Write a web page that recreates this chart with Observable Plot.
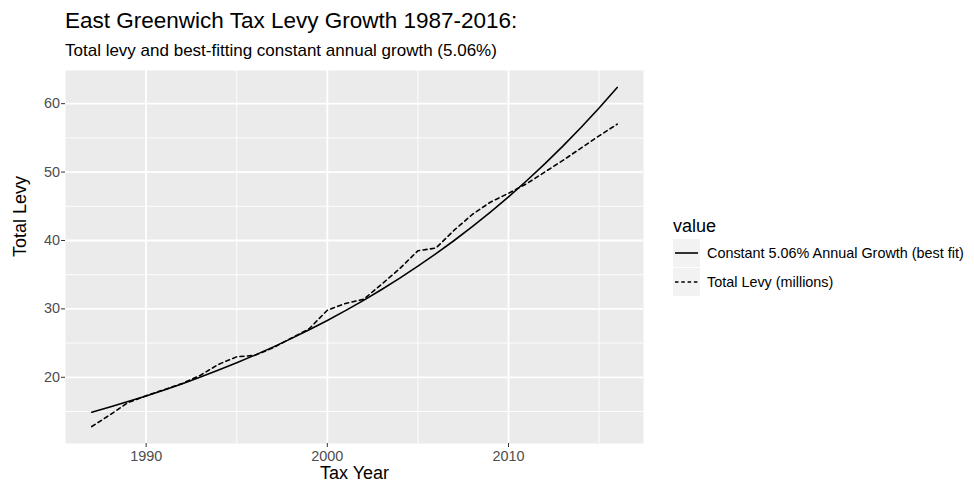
<!DOCTYPE html>
<html>
<head>
<meta charset="utf-8">
<script src="https://cdn.jsdelivr.net/npm/d3@7"></script>
<script src="https://cdn.jsdelivr.net/npm/@observablehq/plot@0.6"></script>
<style>
  html, body { margin: 0; padding: 0; background: #fff; }
  #wrap { position: relative; width: 974px; height: 489px; overflow: hidden;
          font-family: "Liberation Sans", Arial, Helvetica, sans-serif; color: #000; }
  #header { position: relative; height: 60px; }
  #title { position: absolute; left: 65px; top: 10.2px; font-size: 22.5px; line-height: 22.5px; white-space: nowrap; }
  #subtitle { position: absolute; left: 65px; top: 42.3px; font-size: 17px; line-height: 17px; white-space: nowrap; }
  #chart svg { display: block; }
  #legend { position: absolute; left: 673px; top: 215px; }
  #legend .ltitle { position: absolute; left: 0; top: 0; font-size: 18px; line-height: 22px; white-space: nowrap; }
  #legend .row { position: absolute; left: 0; display: flex; align-items: center; height: 29px; }
  #legend .key { width: 27px; height: 28px; background: #f2f2f2; display: flex; align-items: center; justify-content: center; }
  #legend .lab { margin-left: 7px; font-size: 14.4px; white-space: nowrap; }
</style>
</head>
<body>
<div id="wrap">
  <div id="header">
    <div id="title">East Greenwich Tax Levy Growth 1987-2016:</div>
    <div id="subtitle">Total levy and best-fitting constant annual growth (5.06%)</div>
  </div>
  <div id="chart"></div>
  <div id="legend"></div>
</div>
<script>
// ---- data ----
const years = [1987,1988,1989,1990,1991,1992,1993,1994,1995,1996,1997,1998,1999,2000,2001,2002,2003,2004,2005,2006,2007,2008,2009,2010,2011,2012,2013,2014,2015,2016];
const totalLevy = [12.8,14.5,16.3,17.3,18.2,19.1,20.3,21.9,23.0,23.2,24.3,25.7,27.1,29.8,30.8,31.4,33.6,35.9,38.5,38.9,41.5,43.8,45.6,46.9,48.3,50.0,51.7,53.5,55.3,57.0];
const fitGrowth = [14.90,15.65,16.45,17.28,18.15,19.07,20.04,21.05,22.12,23.24,24.41,25.65,26.95,28.31,29.74,31.25,32.83,34.49,36.24,38.07,40.00,42.02,44.15,46.38,48.73,51.20,53.79,56.51,59.37,62.37];
const seriesNames = ["Constant 5.06% Annual Growth (best fit)", "Total Levy (millions)"];
const legendTitle = "value";
const xLabel = "Tax Year";
const yLabel = "Total Levy";
const xTicks = [1990, 2000, 2010];
const xMinor = [1995, 2005, 2015];
const yTicks = [20, 30, 40, 50, 60];
const yMinor = [15, 25, 35, 45, 55];

const rows = years.flatMap((yr, i) => [
  {year: yr, value: fitGrowth[i], series: seriesNames[0]},
  {year: yr, value: totalLevy[i], series: seriesNames[1]}
]);

const allVals = fitGrowth.concat(totalLevy);
const xr = d3.extent(years), yr = d3.extent(allVals);
const xPad = (xr[1] - xr[0]) * 0.05, yPad = (yr[1] - yr[0]) * 0.05;

const font = '"Liberation Sans", Arial, Helvetica, sans-serif';

const chart = Plot.plot({
  width: 974,
  height: 429,
  marginLeft: 65,
  marginRight: 331,
  marginTop: 10,
  marginBottom: 46,
  style: {fontFamily: font, background: "transparent", overflow: "visible"},
  x: {domain: [xr[0] - xPad, xr[1] + xPad]},
  y: {domain: [yr[0] - yPad, yr[1] + yPad]},
  marks: [
    Plot.frame({fill: "#ebebeb", stroke: null}),
    Plot.gridX(xMinor, {stroke: "#fff", strokeOpacity: 1, strokeWidth: 0.9}),
    Plot.gridY(yMinor, {stroke: "#fff", strokeOpacity: 1, strokeWidth: 0.9}),
    Plot.gridX(xTicks, {stroke: "#fff", strokeOpacity: 1, strokeWidth: 1.8}),
    Plot.gridY(yTicks, {stroke: "#fff", strokeOpacity: 1, strokeWidth: 1.8}),
    Plot.line(rows, {filter: d => d.series === seriesNames[0], x: "year", y: "value",
      stroke: "#000", strokeWidth: 1.6, curve: "linear"}),
    Plot.line(rows, {filter: d => d.series === seriesNames[1], x: "year", y: "value",
      stroke: "#000", strokeWidth: 1.6, strokeDasharray: "4,3.5", curve: "linear"}),
    Plot.axisX(xTicks, {tickSize: 4, tickPadding: 3.5, fontSize: 14.4, stroke: "#333", fill: "#4d4d4d", label: null, tickFormat: d => String(d)}),
    Plot.axisY(yTicks, {tickSize: 4, tickPadding: 1.5, fontSize: 14.4, stroke: "#333", fill: "#4d4d4d", label: null}),
    Plot.text([xLabel], {frameAnchor: "bottom", dy: 35, fontSize: 18, fill: "#000"}),
    Plot.text([yLabel], {frameAnchor: "left", dx: -45, rotate: -90, fontSize: 18, fill: "#000"})
  ]
});
document.getElementById("chart").appendChild(chart);

// legend
const leg = document.getElementById("legend");
const t = document.createElement("div");
t.className = "ltitle"; t.textContent = legendTitle; leg.appendChild(t);
seriesNames.forEach((name, i) => {
  const r = document.createElement("div"); r.className = "row";
  r.style.top = (23 + i * 29) + "px";
  const k = document.createElement("div"); k.className = "key";
  k.innerHTML = `<svg width="25" height="4"><line x1="1" x2="24" y1="2" y2="2" stroke="#000" stroke-width="1.6" ${i === 1 ? 'stroke-dasharray="3.5,2.8"' : ''}/></svg>`;
  const l = document.createElement("div"); l.className = "lab"; l.textContent = name;
  r.appendChild(k); r.appendChild(l); leg.appendChild(r);
});
</script>
</body>
</html>
